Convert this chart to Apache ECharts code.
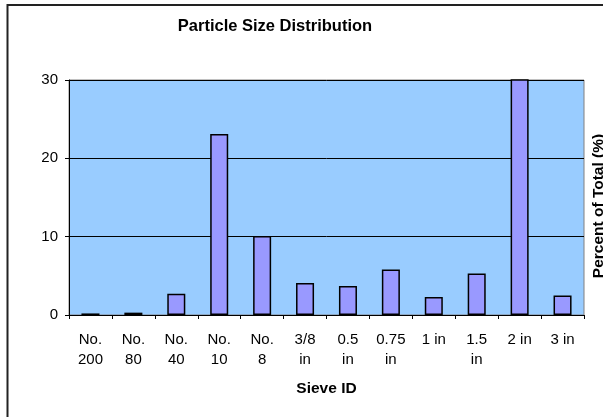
<!DOCTYPE html>
<html>
<head>
<meta charset="utf-8">
<script src="https://cdn.jsdelivr.net/npm/echarts@6/dist/echarts.min.js"></script>
<style>
html,body{margin:0;padding:0;background:#fff;}
#c{width:603px;height:417px;}
</style>
</head>
<body>
<div id="c"></div>
<script>
var categories = ['No.\n200', 'No.\n80', 'No.\n40', 'No.\n10', 'No.\n8', '3/8\nin', '0.5\nin', '0.75\nin', '1 in', '1.5\nin', '2 in', '3 in'];
var percentValues = [0.2, 0.3, 2.7, 23.1, 10.1, 4.1, 3.7, 5.8, 2.3, 5.3, 36, 2.5];
var yTicks = [0, 10, 20, 30];

var FONT = "'Liberation Sans', Arial, sans-serif";
var chart = echarts.init(document.getElementById('c'), null, {renderer: 'canvas'});
chart.setOption({
  backgroundColor: '#ffffff',
  animation: false,
  title: {
    text: 'Particle Size Distribution',
    left: 270,
    top: 13,
    textAlign: 'center',
    textStyle: {fontFamily: FONT, fontSize: 16.5, fontWeight: 'bold', color: '#000'}
  },
  graphic: [
    {
      type: 'rect',
      shape: {x: 7.5, y: 5, width: 700, height: 500},
      style: {fill: 'none', stroke: '#222', lineWidth: 2},
      silent: true
    },
    {
      type: 'text',
      x: 599,
      y: 206,
      rotation: Math.PI / 2,
      style: {
        text: 'Percent of Total (%)',
        fontFamily: FONT,
        fontSize: 15.5,
        fontWeight: 'bold',
        fill: '#000',
        align: 'center',
        verticalAlign: 'middle'
      }
    }
  ],
  grid: {
    left: 69, top: 80, width: 515, height: 235,
    show: true,
    backgroundColor: '#99CCFF',
    borderColor: '#808080',
    borderWidth: 1
  },
  xAxis: {
    type: 'category',
    data: categories,
    name: 'Sieve ID',
    nameLocation: 'middle',
    nameGap: 66,
    nameTextStyle: {fontFamily: FONT, fontSize: 15.5, fontWeight: 'bold', color: '#000'},
    axisLine: {show: true, lineStyle: {color: '#000', width: 1}},
    axisTick: {show: true, length: 4, lineStyle: {color: '#000'}},
    axisLabel: {fontFamily: FONT, fontSize: 15, color: '#000', margin: 15, lineHeight: 20, interval: 0}
  },
  yAxis: {
    type: 'value',
    min: yTicks[0],
    max: yTicks[yTicks.length - 1],
    interval: 10,
    axisLine: {show: true, lineStyle: {color: '#000', width: 1}},
    axisTick: {show: true, length: 4, lineStyle: {color: '#000'}},
    axisLabel: {fontFamily: FONT, fontSize: 15, color: '#000', margin: 11},
    splitLine: {show: true, lineStyle: {color: '#000', width: 1}}
  },
  series: [{
    type: 'bar',
    data: percentValues,
    barWidth: '42%',
    clip: true,
    itemStyle: {color: '#9999FF', borderColor: '#000', borderWidth: 1.5}
  }]
});
</script>
</body>
</html>
